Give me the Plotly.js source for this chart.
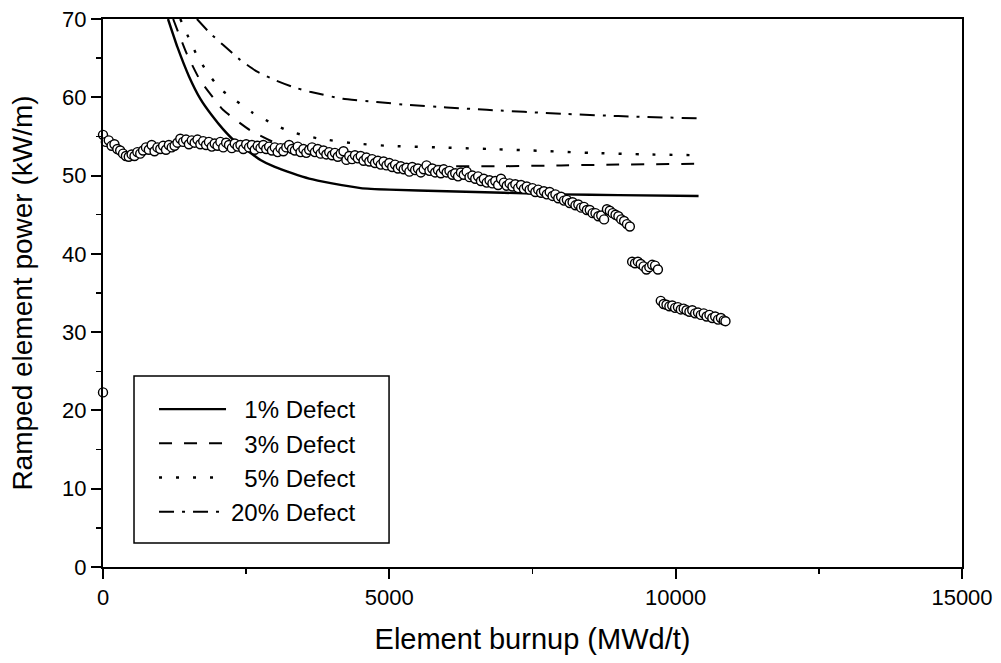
<!DOCTYPE html>
<html>
<head>
<meta charset="utf-8">
<script src="https://cdn.plot.ly/plotly-3.0.1.min.js"></script>
<style>html,body{margin:0;padding:0;background:#fff;}#chart{width:1001px;height:663px;}</style>
</head>
<body>
<div id="chart"></div>
<script>
// Measured data (open circles): element burnup (MWd/t) vs ramped element power (kW/m)
const burnup = [0,50,100,150,200,250,300,350,400,450,500,550,600,650,700,750,800,850,900,950,
1000,1050,1100,1150,1200,1250,1300,1350,1400,1450,1500,1550,1600,1650,1700,1750,1800,1850,1900,1950,
2000,2050,2100,2150,2200,2250,2300,2350,2400,2450,2500,2550,2600,2650,2700,2750,2800,2850,2900,2950,
3000,3050,3100,3150,3200,3250,3300,3350,3400,3450,3500,3550,3600,3650,3700,3750,3800,3850,3900,3950,
4000,4050,4100,4150,4200,4250,4300,4350,4400,4450,4500,4550,4600,4650,4700,4750,4800,4850,4900,4950,
5000,5050,5100,5150,5200,5250,5300,5350,5400,5450,5500,5550,5600,5650,5700,5750,5800,5850,5900,5950,
6000,6050,6100,6150,6200,6250,6300,6350,6400,6450,6500,6550,6600,6650,6700,6750,6800,6850,6900,6950,
7000,7050,7100,7150,7200,7250,7300,7350,7400,7450,7500,7550,7600,7650,7700,7750,7800,7850,7900,7950,
8000,8050,8100,8150,8200,8250,8300,8350,8400,8450,8500,8550,8600,8650,8700,8750,8800,8850,8900,8950,
9000,9050,9100,9150,9200,
9240,9290,9340,9390,9440,9490,9540,9590,9640,9690,
9740,9790,9840,9890,9940,9990,10040,10090,10140,10190,10240,10290,10340,10390,10440,10490,10540,10590,10640,10690,10740,10790,10840,10870,
0];
const power = [55.2,54.3,54.5,53.8,54.0,53.4,53.2,52.8,52.5,52.4,52.7,52.5,53.0,52.8,53.2,53.6,53.3,53.9,53.1,53.6,
53.4,53.8,53.3,53.9,53.6,53.8,54.2,54.7,54.3,54.6,54.0,54.5,54.2,54.6,54.0,54.4,53.9,54.3,53.7,54.1,
53.8,54.3,53.6,54.2,53.9,53.5,54.1,53.7,53.9,53.4,54.0,53.6,53.9,53.3,53.8,53.5,53.9,53.4,53.7,53.2,
53.6,53.0,53.5,53.1,53.6,53.9,53.4,53.2,53.7,53.0,53.4,52.9,53.3,53.6,53.0,53.4,52.8,53.2,52.7,53.0,
52.6,52.9,52.4,52.8,53.1,52.0,52.5,52.1,52.6,52.2,52.5,51.9,52.3,51.8,52.1,51.6,51.9,51.4,51.8,51.3,
51.6,51.1,51.4,50.9,51.2,50.8,51.0,50.5,51.1,50.7,50.9,50.4,50.8,51.3,50.6,50.9,50.4,50.7,50.3,50.8,
50.4,50.6,50.1,50.3,49.9,50.4,50.1,50.5,49.8,50.0,49.6,49.9,49.3,49.6,49.1,49.4,49.0,49.3,48.8,49.6,
49.1,48.7,49.0,48.6,48.9,48.4,48.8,48.3,48.6,48.2,48.4,47.9,48.2,47.8,48.0,47.6,47.9,47.4,47.6,47.1,
47.3,46.8,46.9,46.5,46.6,46.2,46.3,45.9,46.0,45.6,45.6,45.2,45.2,44.8,44.9,44.4,45.7,45.5,45.2,45.0,
44.8,44.4,44.2,43.8,43.5,
39.0,38.8,39.0,38.7,38.4,38.0,38.3,38.6,38.5,38.0,
34.0,33.6,33.5,33.3,33.4,33.1,33.2,32.9,33.0,32.8,32.6,32.8,32.4,32.5,32.2,32.4,32.0,32.2,31.8,32.0,31.6,31.8,31.5,31.4,
22.3];

// Model curves (one per defect size)
const names = ["\u20071% Defect", "\u20073% Defect", "\u20075% Defect", "20% Defect"];
const burnup1 = [1135,1300,1500,1700,1900,2100,2300,2500,2750,3000,3300,3600,4000,4500,5000,6000,7000,8000,9000,10400];
const defect1 = [70,66.4,62.7,59.8,57.7,55.9,54.4,53.3,52.0,51.1,50.3,49.6,49.0,48.4,48.2,48.0,47.8,47.6,47.5,47.4];
const burnup3 = [1225,1460,1694,2095,2567,3000,3500,4000,4500,5000,6000,7000,8000,9000,10400];
const defect3 = [70,65.6,62.2,58.4,55.8,54.2,53.0,52.3,51.8,51.5,51.2,51.2,51.3,51.4,51.5];
const burnup5 = [1350,1490,1636,1810,2043,2334,2619,2946,3236,3527,3789,4400,4976,5849,6723,7500,8500,9500,10400];
const defect5 = [70,67.7,65.4,63.3,61.1,59.5,58.0,56.7,55.7,55.1,54.7,54.1,53.8,53.6,53.4,53.2,52.9,52.7,52.6];
const burnup20 = [1640,1868,2095,2392,2684,3003,3323,3614,4191,4779,5361,6002,6700,8000,9000,10400];
const defect20 = [70,68.2,66.7,64.8,63.3,62.2,61.3,60.7,59.8,59.4,59.0,58.7,58.4,57.9,57.6,57.3];

const xTitle = "Element burnup (MWd/t)";
const yTitle = "Ramped element power (kW/m)";

const lineStyles = [
  {dash: "solid", width: 2.4},
  {dash: "13px,12px", width: 2},
  {dash: "3px,14px", width: 2.4},
  {dash: "15px,8px,3px,8px", width: 2}
];
const curveX = [burnup1, burnup3, burnup5, burnup20];
const curveY = [defect1, defect3, defect5, defect20];

const traces = [];
for (let i = 0; i < 4; i++) {
  traces.push({
    x: curveX[i], y: curveY[i], type: "scatter", mode: "lines",
    name: names[i],
    line: {color: "#000", width: lineStyles[i].width, dash: lineStyles[i].dash, shape: "spline", smoothing: 0.4}
  });
}
traces.push({
  x: burnup, y: power, type: "scatter", mode: "markers", showlegend: false,
  cliponaxis: false,
  marker: {symbol: "circle", size: 9, color: "#fff", line: {color: "#000", width: 1.4}}
});

const axisCommon = {
  showline: true, linecolor: "#000", linewidth: 2, mirror: true,
  showgrid: false, zeroline: false,
  ticks: "outside", ticklen: 10, tickwidth: 2, tickcolor: "#000",
  tickformat: "d",
  tickfont: {size: 22, color: "#000"}
};

const layout = {
  width: 1001, height: 663,
  margin: {l: 103, r: 39, t: 19, b: 96},
  paper_bgcolor: "#fff", plot_bgcolor: "#fff",
  font: {family: "Liberation Sans, Arial, sans-serif", color: "#000"},
  xaxis: Object.assign({}, axisCommon, {
    range: [0, 15000], tick0: 0, dtick: 5000,
    minor: {dtick: 2500, ticks: "outside", ticklen: 5, tickwidth: 1.5, tickcolor: "#000"},
    title: {text: xTitle, font: {size: 29, color: "#000"}, standoff: 19}
  }),
  yaxis: Object.assign({}, axisCommon, {
    range: [0, 70], tick0: 0, dtick: 10,
    minor: {dtick: 5, ticks: "outside", ticklen: 5, tickwidth: 1.5, tickcolor: "#000"},
    title: {text: yTitle, font: {size: 28, color: "#000"}, standoff: 21}
  }),
  showlegend: true,
  legend: {
    x: 0.0594, y: 0.3285, xanchor: "left", yanchor: "top",
    bgcolor: "rgba(0,0,0,0)", borderwidth: 0,
    font: {size: 24, color: "#000"},
    itemwidth: 67, tracegroupgap: 0
  },
  shapes: [{
    type: "rect", xref: "paper", yref: "paper",
    x0: 0.0361, x1: 0.333, y0: 0.0438, y1: 0.3485,
    line: {color: "#000", width: 1.5}, fillcolor: "rgba(0,0,0,0)", layer: "above"
  }]
};

Plotly.newPlot("chart", traces, layout, {displayModeBar: false, staticPlot: true});
</script>
</body>
</html>
